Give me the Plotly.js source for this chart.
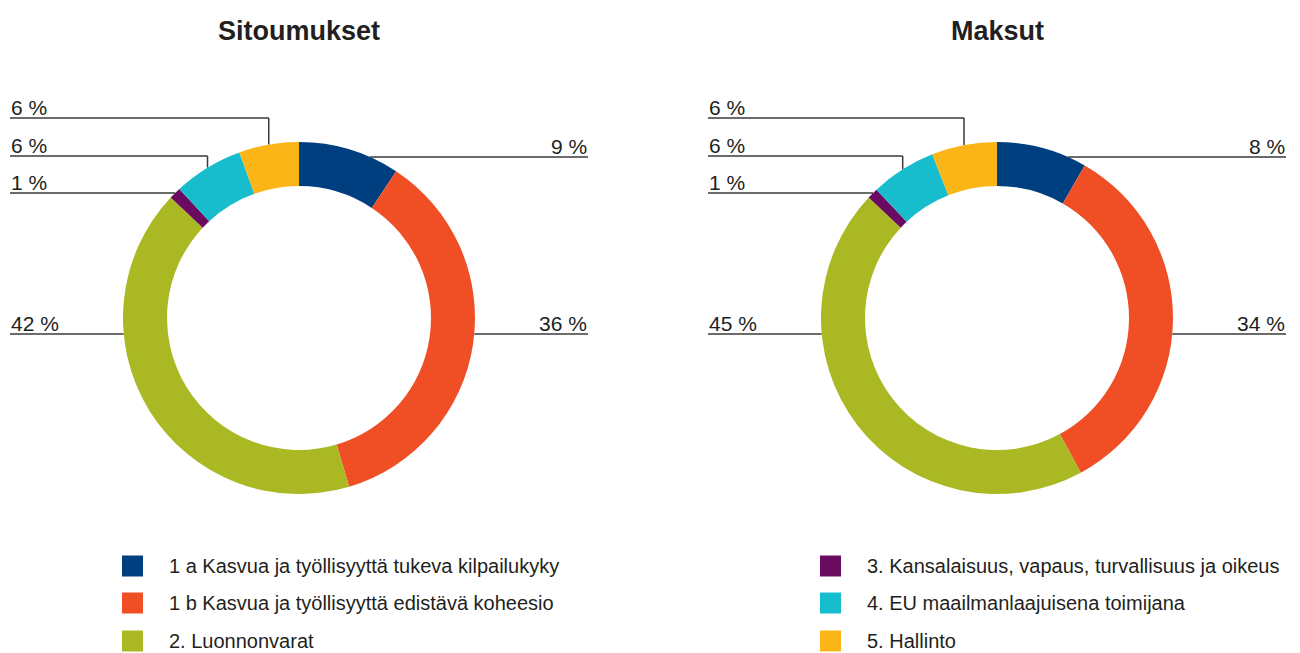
<!DOCTYPE html>
<html><head><meta charset="utf-8">
<script src="https://cdn.plot.ly/plotly-3.0.1.min.js"></script>
<style>html,body{margin:0;padding:0;background:#fff}#chart{width:1300px;height:653px}</style>
</head><body><div id="chart"></div>
<script>
// ---- data ----
const categories = [
  '1 a Kasvua ja työllisyyttä tukeva kilpailukyky',
  '1 b Kasvua ja työllisyyttä edistävä koheesio',
  '2. Luonnonvarat',
  '3. Kansalaisuus, vapaus, turvallisuus ja oikeus',
  '4. EU maailmanlaajuisena toimijana',
  '5. Hallinto'
];
const commitments = [9.3, 36.1, 41.6, 1.1, 6.4, 5.5];
const payments = [8.3, 33.8, 44.9, 1.0, 6.0, 6.0];
const chartTitles = ['Sitoumukset', 'Maksut'];

// ---- style / layout config ----
const colors = ['#003f7f', '#f04e24', '#a9b823', '#6a0a60', '#17bdcc', '#fbb517'];
const FONT = '"Liberation Sans", Arial, sans-serif';
const TXT = '#231f20';
const LINE = '#3a3a3a';
const W = 1300, H = 653;
const charts = [{cx: 299, cy: 318, R: 176}, {cx: 997, cy: 318, R: 176}];
const hole = 0.75;
const labelRows = [157, 334, 334, 193, 156, 118];
const labelSides = ['right', 'right', 'left', 'left', 'left', 'left'];
const labelElbow = [false, false, false, false, true, true];
const colHalf = 289;
const legendRows = [566, 603, 641];

const traces = [], shapes = [], annotations = [];
const series = [commitments, payments];

series.forEach((vals, ci) => {
  const g = charts[ci];
  const total = vals.reduce((a, b) => a + b, 0);
  traces.push({
    type: 'pie', values: vals, labels: categories, sort: false, direction: 'clockwise',
    rotation: 0, hole: hole, textinfo: 'none', hoverinfo: 'label+percent',
    marker: {colors: colors, line: {width: 0}}, showlegend: false,
    domain: {x: [(g.cx - g.R) / W, (g.cx + g.R) / W], y: [1 - (g.cy + g.R) / H, 1 - (g.cy - g.R) / H]}
  });
  annotations.push({
    x: g.cx, y: 31, xref: 'x', yref: 'y', text: '<b>' + chartTitles[ci] + '</b>', showarrow: false,
    xanchor: 'center', yanchor: 'middle', font: {family: FONT, size: 27, color: TXT}
  });
  let cum = 0;
  vals.forEach((v, i) => {
    const mid = (cum + v / 2) / total;
    cum += v;
    const th = 2 * Math.PI * mid;
    const ax = g.cx + g.R * Math.sin(th);
    const side = labelSides[i];
    const row = labelRows[i];
    const edge = side === 'left' ? g.cx - colHalf : g.cx + colHalf;
    const line = {type: 'line', xref: 'x', yref: 'y', layer: 'below', line: {color: LINE, width: 1.5}};
    if (labelElbow[i]) {
      const yc = g.cy - Math.sqrt(Math.max(0, g.R * g.R - (ax - g.cx) * (ax - g.cx)));
      shapes.push(Object.assign({}, line, {x0: edge, x1: ax, y0: row, y1: row}));
      shapes.push(Object.assign({}, line, {x0: ax, x1: ax, y0: row, y1: yc}));
    } else {
      const dx = Math.sqrt(Math.max(0, g.R * g.R - (row - g.cy) * (row - g.cy)));
      const xc = side === 'left' ? g.cx - dx : g.cx + dx;
      shapes.push(Object.assign({}, line, {x0: edge, x1: xc, y0: row, y1: row}));
    }
    const pct = Math.round(v / total * 100);
    annotations.push({
      x: edge, y: row + 2, xref: 'x', yref: 'y', text: pct + '\u00a0%', showarrow: false,
      xanchor: side === 'left' ? 'left' : 'right', yanchor: 'bottom', borderpad: 0,
      font: {family: FONT, size: 21, color: TXT}
    });
  });
});

// manual legend: first three categories under left chart, last three under right
categories.forEach((c, i) => {
  const g = charts[i < 3 ? 0 : 1];
  const ry = legendRows[i % 3];
  const x0 = g.cx - 177;
  shapes.push({type: 'rect', xref: 'x', yref: 'y', x0: x0, x1: x0 + 21, y0: ry - 10.5, y1: ry + 10.5,
    fillcolor: colors[i], line: {width: 0}});
  annotations.push({x: x0 + 45, y: ry, xref: 'x', yref: 'y', text: c, showarrow: false,
    xanchor: 'left', yanchor: 'middle', font: {family: FONT, size: 20, color: TXT}});
});

const layout = {
  width: W, height: H, margin: {l: 0, r: 0, t: 0, b: 0},
  paper_bgcolor: '#fff', plot_bgcolor: 'rgba(0,0,0,0)', showlegend: false,
  xaxis: {range: [0, W], visible: false, fixedrange: true},
  yaxis: {range: [H, 0], visible: false, fixedrange: true},
  shapes: shapes, annotations: annotations
};
Plotly.newPlot('chart', traces, layout, {displayModeBar: false, staticPlot: true});
</script></body></html>
